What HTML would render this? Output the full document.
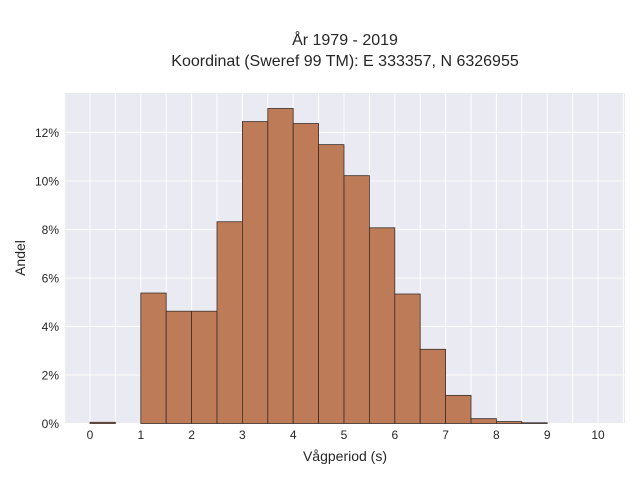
<!DOCTYPE html>
<html><head><meta charset="utf-8"><style>
body{margin:0;background:#fff;font-family:"Liberation Sans",sans-serif}
svg text{font-family:"Liberation Sans",sans-serif;fill:#262626}
</style></head><body>
<svg width="640" height="480">
<text x="345" y="45" text-anchor="middle" font-size="16">År 1979 - 2019</text>
<text x="345" y="66" text-anchor="middle" font-size="16">Koordinat (Sweref 99 TM): E 333357, N 6326955</text>
<rect x="64" y="93" width="561" height="331" fill="#eaeaf2"/>
<g id="grid"></g>
<g id="bars"></g>
<g id="xt"></g>
<g id="yt"></g>
<text x="345" y="461" text-anchor="middle" font-size="14">Vågperiod (s)</text>
<text transform="translate(25,258) rotate(-90)" text-anchor="middle" font-size="14">Andel</text>
</svg>
<script>
const binStarts=[0,0.5,1,1.5,2,2.5,3,3.5,4,4.5,5,5.5,6,6.5,7,7.5,8,8.5];
const shares=[0.05,0,5.38,4.63,4.63,8.32,12.45,12.99,12.37,11.5,10.22,8.07,5.34,3.06,1.16,0.2,0.08,0.03];
const binWidth=0.5;
const xTicks=[0,1,2,3,4,5,6,7,8,9,10];
const yTicks=[0,2,4,6,8,10,12];
const NS="http://www.w3.org/2000/svg";
function X(v){return 90+v*50.8;}
function Y(v){return 423.5-v*24.25;}
const grid=document.getElementById('grid'),bars=document.getElementById('bars'),xt=document.getElementById('xt'),yt=document.getElementById('yt');
for(let v=-0.5;v<=10.5;v+=0.5){const l=document.createElementNS(NS,'line');
l.setAttribute('x1',X(v));l.setAttribute('x2',X(v));l.setAttribute('y1',93);l.setAttribute('y2',424);
l.setAttribute('stroke','#fff');l.setAttribute('stroke-width','1');


grid.appendChild(l);}
yTicks.forEach(t=>{const l=document.createElementNS(NS,'line');
l.setAttribute('x1',64);l.setAttribute('x2',625);l.setAttribute('y1',Y(t));l.setAttribute('y2',Y(t));
l.setAttribute('stroke','#fff');l.setAttribute('stroke-width','1');


grid.appendChild(l);
const tx=document.createElementNS(NS,'text');tx.setAttribute('x',59);tx.setAttribute('y',Y(t)+4.5);
tx.setAttribute('text-anchor','end');tx.setAttribute('font-size','12');tx.textContent=t+'%';


yt.appendChild(tx);});
xTicks.forEach(t=>{const tx=document.createElementNS(NS,'text');tx.setAttribute('x',X(t));tx.setAttribute('y',439);
tx.setAttribute('text-anchor','middle');tx.setAttribute('font-size','12');tx.textContent=t;


xt.appendChild(tx);});
binStarts.forEach((s,i)=>{if(shares[i]<=0)return;const r=document.createElementNS(NS,'rect');
const y=Y(shares[i]);r.setAttribute('x',X(s));r.setAttribute('width',X(s+binWidth)-X(s));
r.setAttribute('y',y);r.setAttribute('height',Y(0)-y);
r.setAttribute('fill','#bd7b58');r.setAttribute('stroke','#3a2f2a');r.setAttribute('stroke-width','0.8');


bars.appendChild(r);});
</script>
</body></html>
